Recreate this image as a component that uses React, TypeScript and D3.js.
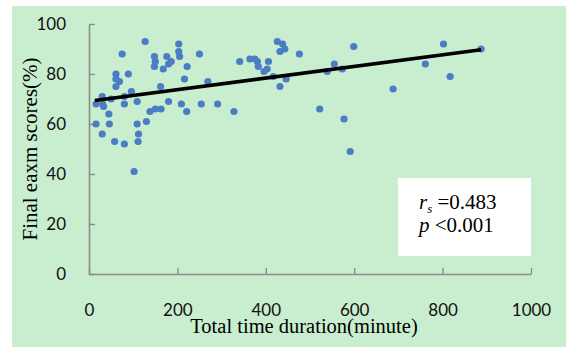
import { useRef, useEffect } from "react";
import * as d3 from "d3";

// total time duration (minutes) and final exam score (%) per student
const durations = [
	16, 16, 30, 31, 33, 30, 45, 46, 50, 58, 61, 61, 61, 69, 75, 80, 80, 80, 89, 96,
	102, 109, 109, 111, 112, 127, 130, 138, 148, 150, 148, 150, 163, 162, 168, 176,
	180, 186, 180, 203, 203, 205, 209, 216, 222, 221, 250, 254, 269, 291, 328, 341,
	364, 375, 381, 383, 396, 403, 406, 417, 426, 432, 432, 438, 443, 446, 476, 522,
	539, 555, 573, 577, 591, 599, 688, 761, 802, 817, 887,
];
const scores = [
	68, 60, 71, 68, 67, 56, 64, 60, 70, 53, 80, 78, 75, 77, 88, 71, 68, 52, 80, 73,
	41, 69, 60, 53, 56, 93, 61, 65, 87, 85, 83, 66, 66, 75, 82, 87,
	84, 85, 69, 92, 89, 87, 68, 78, 83, 65, 88, 68, 77, 68, 65, 85,
	86, 86, 85, 83, 81, 82, 85, 79, 93, 89, 75, 92, 90, 78, 88, 66,
	81, 84, 82, 62, 49, 91, 74, 84, 92, 79, 90,
];

// fitted trend line, read at its two ends
const trendX = [13, 887];
const trendY = [69.4, 89.7];

const xTicks = [0, 200, 400, 600, 800, 1000];
const yTicks = [0, 20, 40, 60, 80, 100];

export default function App() {
	const svgRef = useRef(null);

	useEffect(() => {
		const width = 566,
			height = 347;
		const plot = { left: 89, right: 531, top: 24, bottom: 274 };

		const root = d3.select(svgRef.current).attr("width", width).attr("height", height);

		// green chart area
		root.append("rect")
			.attr("x", 12)
			.attr("y", 6)
			.attr("width", width - 12)
			.attr("height", height - 6)
			.attr("fill", "#c8edcf");

		const x = d3.scaleLinear().domain([0, 1000]).range([plot.left, plot.right]);
		const y = d3.scaleLinear().domain([0, 100]).range([plot.bottom, plot.top]);

		const xAxis = root
			.append("g")
			.attr("transform", `translate(0,${plot.bottom})`)
			.call(
				d3
					.axisBottom(x)
					.tickValues(xTicks)
					.tickFormat(d3.format("d"))
					.tickSizeInner(-6)
					.tickSizeOuter(0)
					.tickPadding(30)
			);

		const yAxis = root
			.append("g")
			.attr("transform", `translate(${plot.left},0)`)
			.call(
				d3
					.axisLeft(y)
					.tickValues(yTicks)
					.tickFormat(d3.format("d"))
					.tickSizeInner(-6)
					.tickSizeOuter(0)
					.tickPadding(23)
			);

		[xAxis, yAxis].forEach((g) => {
			g.select(".domain").attr("stroke", "#8c8c8c").attr("stroke-width", 1.6);
			g.selectAll(".tick line").attr("stroke", "#8c8c8c").attr("stroke-width", 1.4);
			g.selectAll(".tick text")
				.attr("fill", "#111")
				.style("font-family", "Lato, 'Open Sans', sans-serif")
				.style("font-size", "17px");
		});

		// points
		root.append("g")
			.selectAll("circle")
			.data(durations.map((d, i) => [d, scores[i]]))
			.enter()
			.append("circle")
			.attr("cx", (d) => x(d[0]))
			.attr("cy", (d) => y(d[1]))
			.attr("r", 3.6)
			.attr("fill", "#4a7dc4");

		// trend line
		const line = d3
			.line()
			.x((d) => x(d[0]))
			.y((d) => y(d[1]));

		root.append("path")
			.datum(trendX.map((d, i) => [d, trendY[i]]))
			.attr("d", line)
			.attr("fill", "none")
			.attr("stroke", "#000")
			.attr("stroke-width", 3.6);

		// stats box
		root.append("rect")
			.attr("x", 398)
			.attr("y", 178)
			.attr("width", 133)
			.attr("height", 78)
			.attr("fill", "#fff");

		const serif = "'Liberation Serif', 'Times New Roman', serif";

		const t1 = root
			.append("text")
			.attr("x", 419)
			.attr("y", 209)
			.style("font-family", serif)
			.style("font-size", "21px");
		t1.append("tspan").attr("font-style", "italic").text("r");
		t1.append("tspan")
			.attr("font-style", "italic")
			.attr("dy", 4)
			.style("font-size", "13px")
			.text("s");
		t1.append("tspan").attr("dy", -4).text(" =0.483");

		const t2 = root
			.append("text")
			.attr("x", 419)
			.attr("y", 232)
			.style("font-family", serif)
			.style("font-size", "21px");
		t2.append("tspan").attr("font-style", "italic").text("p");
		t2.append("tspan").text(" <0.001");

		// axis titles
		root.append("text")
			.attr("transform", "rotate(-90)")
			.attr("x", -149)
			.attr("y", 37)
			.attr("text-anchor", "middle")
			.style("font-family", serif)
			.style("font-size", "21px")
			.text("Final eaxm scores(%)");

		root.append("text")
			.attr("x", 304)
			.attr("y", 333)
			.attr("text-anchor", "middle")
			.style("font-family", serif)
			.style("font-size", "20.5px")
			.text("Total time duration(minute)");

		return () => {
			d3.select(svgRef.current).selectAll("*").remove();
		};
	}, []);

	return (
		<div style={{ position: "absolute", left: 0, top: 0 }}>
			<svg ref={svgRef} style={{ display: "block" }}></svg>
		</div>
	);
}
